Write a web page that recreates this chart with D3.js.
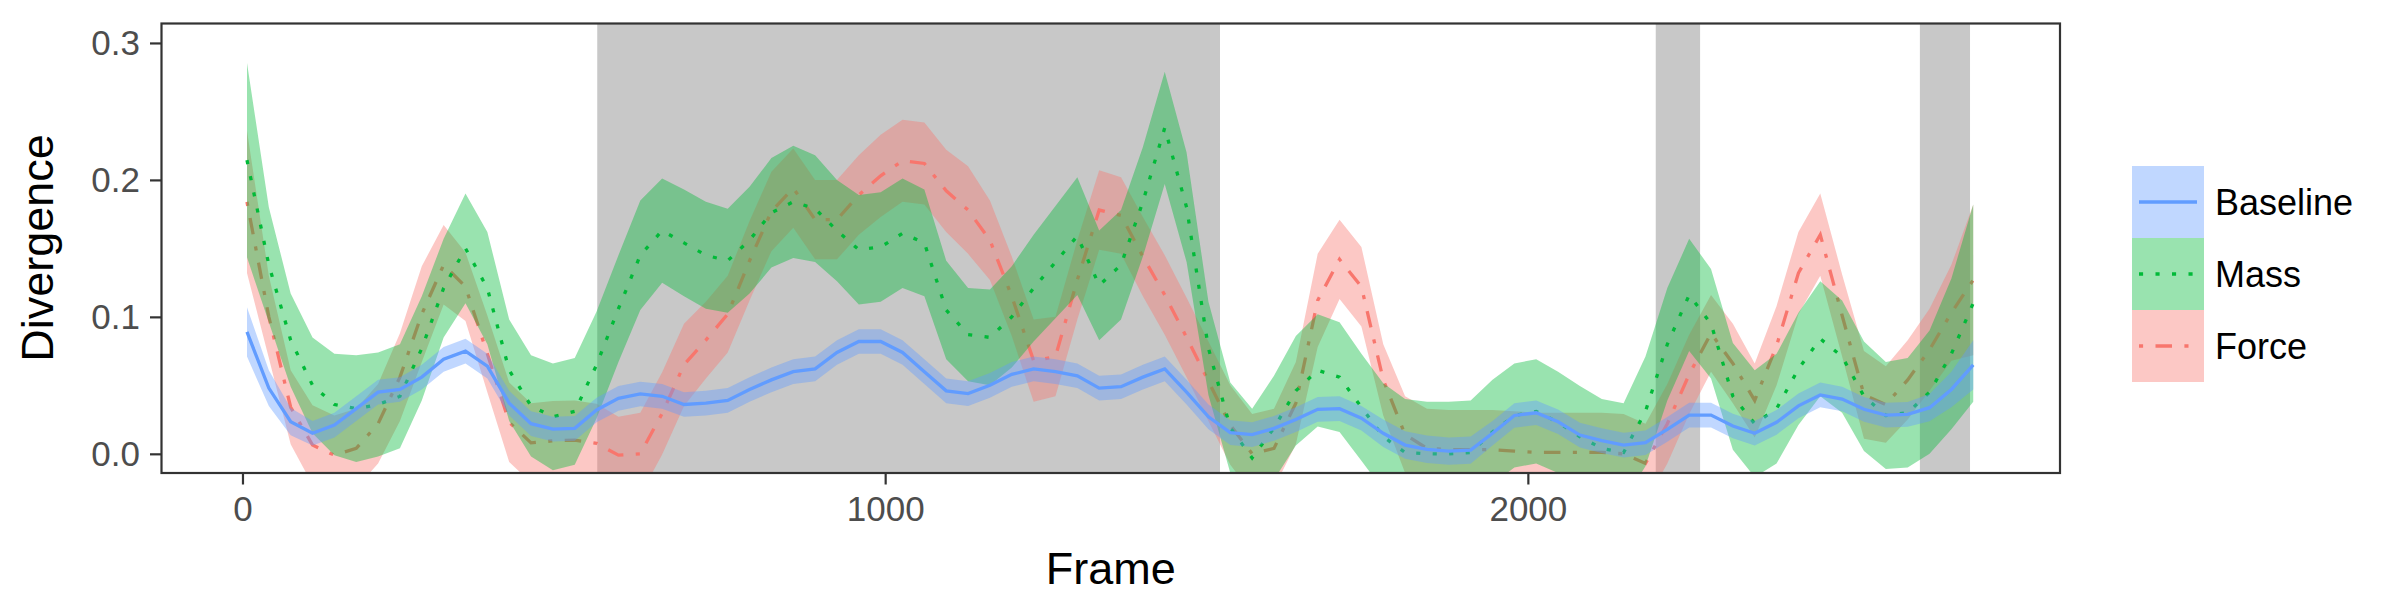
<!DOCTYPE html>
<html>
<head>
<meta charset="utf-8">
<script src="https://d3js.org/d3.v7.min.js"></script>
<style>
  body { margin: 0; background: #fff; }
  svg text { font-family: "Liberation Sans", Arial, Helvetica, sans-serif; }
</style>
</head>
<body>
<svg id="chart" width="2400" height="600"></svg>
<script>

// frame positions of the samples
var frames = [7, 41, 75, 109, 143, 177, 211, 245, 279, 313, 347, 381, 415, 449, 483, 517,
    551, 585, 619, 653, 687, 721, 755, 789, 823, 857, 891, 925, 959, 993, 1027, 1061,
    1095, 1129, 1163, 1197, 1231, 1265, 1299, 1333, 1367, 1401, 1435, 1469, 1503, 1537,
    1571, 1605, 1639, 1673, 1707, 1741, 1775, 1809, 1843, 1877, 1911, 1945, 1979, 2013,
    2047, 2081, 2115, 2149, 2183, 2217, 2251, 2285, 2319, 2353, 2387, 2421, 2455, 2489,
    2523, 2557, 2591, 2625, 2659, 2693];

var baselineMean = [0.089, 0.048, 0.0235, 0.015, 0.021, 0.033, 0.045, 0.047, 0.056, 0.069,
    0.075, 0.064, 0.037, 0.022, 0.018, 0.0186, 0.032, 0.0405, 0.0437, 0.042,
    0.036, 0.037, 0.039, 0.047, 0.054, 0.060, 0.062, 0.074, 0.082, 0.082,
    0.074, 0.060, 0.046, 0.044, 0.050, 0.058, 0.062, 0.060, 0.057, 0.048,
    0.049, 0.056, 0.062, 0.045, 0.027, 0.0155, 0.014, 0.0186, 0.025, 0.0325,
    0.033, 0.026, 0.015, 0.0064, 0.0033, 0.002, 0.0027, 0.015, 0.028, 0.030,
    0.0234, 0.0137, 0.0096, 0.0064, 0.0081, 0.0178, 0.0283, 0.0283, 0.0203, 0.015,
    0.023, 0.035, 0.043, 0.040, 0.0325, 0.0283, 0.0288, 0.0337, 0.047, 0.065];
var baselineSe = [0.018, 0.013, 0.010, 0.009, 0.009, 0.009, 0.009, 0.009, 0.009, 0.009,
    0.009, 0.009, 0.009, 0.009, 0.009, 0.009, 0.009, 0.009, 0.009, 0.009,
    0.009, 0.009, 0.009, 0.009, 0.009, 0.009, 0.009, 0.009, 0.009, 0.009,
    0.009, 0.009, 0.009, 0.009, 0.009, 0.009, 0.009, 0.009, 0.009, 0.009,
    0.009, 0.009, 0.009, 0.009, 0.009, 0.009, 0.009, 0.009, 0.009, 0.009,
    0.009, 0.009, 0.010, 0.010, 0.010, 0.010, 0.010, 0.009, 0.009, 0.009,
    0.009, 0.009, 0.009, 0.009, 0.009, 0.009, 0.009, 0.009, 0.009, 0.009,
    0.009, 0.009, 0.009, 0.009, 0.009, 0.009, 0.009, 0.010, 0.013, 0.018];

var massMean = [0.2145, 0.138, 0.083, 0.050, 0.036, 0.033, 0.036, 0.042, 0.077, 0.121,
    0.150, 0.121, 0.061, 0.035, 0.027, 0.031, 0.065, 0.106, 0.145, 0.163,
    0.154, 0.145, 0.141, 0.156, 0.176, 0.184, 0.179, 0.163, 0.149, 0.151,
    0.161, 0.154, 0.105, 0.087, 0.085, 0.100, 0.121, 0.140, 0.159, 0.123,
    0.138, 0.184, 0.238, 0.180, 0.077, 0.019, -0.003, 0.019, 0.046, 0.061,
    0.056, 0.034, 0.0125, 0.001, 0.000, 0.000, 0.001, 0.016, 0.028, 0.031,
    0.023, 0.0125, 0.004, 0.001, 0.031, 0.080, 0.116, 0.095, 0.042, 0.022,
    0.033, 0.062, 0.084, 0.071, 0.042, 0.028, 0.030, 0.045, 0.073, 0.110];
var massSe = [0.071, 0.042, 0.034, 0.035, 0.037, 0.039, 0.038, 0.038, 0.038, 0.036,
    0.040, 0.041, 0.037, 0.037, 0.039, 0.039, 0.039, 0.039, 0.040, 0.038,
    0.039, 0.039, 0.038, 0.039, 0.040, 0.041, 0.039, 0.037, 0.040, 0.040,
    0.040, 0.039, 0.036, 0.034, 0.035, 0.037, 0.039, 0.041, 0.043, 0.040,
    0.040, 0.040, 0.041, 0.040, 0.034, 0.033, 0.036, 0.038, 0.040, 0.041,
    0.040, 0.039, 0.039, 0.039, 0.038, 0.038, 0.038, 0.038, 0.038, 0.038,
    0.037, 0.037, 0.036, 0.036, 0.040, 0.041, 0.041, 0.040, 0.039, 0.039,
    0.040, 0.041, 0.042, 0.041, 0.040, 0.039, 0.040, 0.045, 0.055, 0.072];

var forceMean = [0.184, 0.100, 0.034, 0.0064, -0.001, 0.004, 0.022, 0.056, 0.102, 0.138,
    0.122, 0.073, 0.023, 0.008, 0.0095, 0.010, 0.0076, -0.001, 0.000, 0.0295,
    0.065, 0.083, 0.102, 0.141, 0.177, 0.194, 0.171, 0.171, 0.189, 0.203,
    0.214, 0.212, 0.192, 0.178, 0.156, 0.115, 0.068, 0.071, 0.127, 0.178,
    0.174, 0.144, 0.116, 0.085, 0.053, 0.021, 0.000, 0.004, 0.037, 0.112,
    0.142, 0.122, 0.054, 0.014, 0.004, 0.003, 0.003, 0.003, 0.002, 0.001,
    0.001, 0.001, 0.001, 0.000, -0.007, 0.022, 0.058, 0.088, 0.066, 0.039,
    0.079, 0.132, 0.160, 0.101, 0.043, 0.036, 0.054, 0.076, 0.103, 0.127];
var forceSe = [0.052, 0.030, 0.027, 0.029, 0.029, 0.029, 0.029, 0.032, 0.035, 0.029,
    0.025, 0.028, 0.029, 0.029, 0.029, 0.029, 0.029, 0.028, 0.030, 0.030,
    0.030, 0.028, 0.028, 0.029, 0.029, 0.029, 0.029, 0.029, 0.029, 0.030,
    0.030, 0.030, 0.030, 0.032, 0.029, 0.029, 0.030, 0.029, 0.029, 0.029,
    0.028, 0.029, 0.029, 0.029, 0.029, 0.029, 0.029, 0.029, 0.030, 0.034,
    0.029, 0.029, 0.026, 0.028, 0.029, 0.029, 0.029, 0.029, 0.029, 0.029,
    0.029, 0.029, 0.029, 0.029, 0.029, 0.029, 0.029, 0.028, 0.029, 0.027,
    0.029, 0.030, 0.030, 0.030, 0.032, 0.028, 0.029, 0.030, 0.035, 0.055];

// shaded frame ranges
var shadeStart = [552, 2199, 2610];
var shadeEnd = [1521, 2268, 2688];

var seriesNames = ["Baseline", "Mass", "Force"];
var seriesColors = ["#619CFF", "#00BA38", "#F8766D"];
var seriesDash = ["none", "4.1 12.4", "4.1 12.4 16.5 12.4"];

var xTicks = [0, 1000, 2000];
var yTicks = [0, 0.1, 0.2, 0.3];

var panel = { left: 161.5, top: 23.5, right: 2060, bottom: 473 };

var svg = d3.select("#chart");

var x = d3.scaleLinear().domain([-126, 2828]).range([panel.left, panel.right]);
var y = d3.scaleLinear().domain([-0.0140, 0.3142]).range([panel.bottom, panel.top]);

svg.append("defs").append("clipPath").attr("id", "panelClip")
    .append("rect")
    .attr("x", panel.left).attr("y", panel.top)
    .attr("width", panel.right - panel.left).attr("height", panel.bottom - panel.top);

var plot = svg.append("g").attr("clip-path", "url(#panelClip)");

// grey shading behind everything
plot.selectAll("rect.shade")
    .data(shadeStart.map(function(s, i) { return [s, shadeEnd[i]]; }))
    .enter().append("rect")
    .attr("class", "shade")
    .attr("x", function(d) { return x(d[0]); })
    .attr("width", function(d) { return x(d[1]) - x(d[0]); })
    .attr("y", panel.top)
    .attr("height", panel.bottom - panel.top)
    .attr("fill", "#C8C8C8");

var means = [baselineMean, massMean, forceMean];
var ses = [baselineSe, massSe, forceSe];

// Force first, Baseline last (ribbon then line for each)
for (var k = 2; k >= 0; k--) {
    var rows = frames.map(function(f, i) {
        return { f: f, m: means[k][i], s: ses[k][i] };
    });

    var area = d3.area()
        .x(function(d) { return x(d.f); })
        .y0(function(d) { return y(d.m - d.s); })
        .y1(function(d) { return y(d.m + d.s); });

    var line = d3.line()
        .x(function(d) { return x(d.f); })
        .y(function(d) { return y(d.m); });

    plot.append("path")
        .datum(rows)
        .attr("d", area)
        .attr("fill", seriesColors[k])
        .attr("fill-opacity", 0.4);

    plot.append("path")
        .datum(rows)
        .attr("d", line)
        .attr("fill", "none")
        .attr("stroke", seriesColors[k])
        .attr("stroke-width", 3.3)
        .attr("stroke-dasharray", seriesDash[k]);
}

// panel border
svg.append("rect")
    .attr("x", panel.left).attr("y", panel.top)
    .attr("width", panel.right - panel.left).attr("height", panel.bottom - panel.top)
    .attr("fill", "none")
    .attr("stroke", "#333333")
    .attr("stroke-width", 2.2);

// axes
var xAxis = svg.append("g")
    .attr("transform", "translate(0," + panel.bottom + ")")
    .call(d3.axisBottom(x).tickValues(xTicks).tickFormat(d3.format("d"))
        .tickSize(11.5).tickPadding(11.5));

var yAxis = svg.append("g")
    .attr("transform", "translate(" + panel.left + ",0)")
    .call(d3.axisLeft(y).tickValues(yTicks).tickFormat(d3.format(".1f"))
        .tickSize(11.5).tickPadding(10));

[xAxis, yAxis].forEach(function(a) {
    a.select(".domain").remove();
    a.selectAll(".tick line").attr("stroke", "#333333").attr("stroke-width", 2.2);
    a.selectAll(".tick text")
        .attr("fill", "#4D4D4D")
        .style("font-size", "35px")
        .style("font-family", "'Liberation Sans', Arial, sans-serif");
});

// axis titles
svg.append("text")
    .attr("x", (panel.left + panel.right) / 2)
    .attr("y", 584)
    .attr("text-anchor", "middle")
    .style("font-size", "45px")
    .text("Frame");

svg.append("text")
    .attr("transform", "translate(53,248) rotate(-90)")
    .attr("text-anchor", "middle")
    .style("font-size", "45px")
    .text("Divergence");

// legend
var legend = svg.append("g").attr("transform", "translate(2132,166)");
var keySize = 72;

seriesNames.forEach(function(name, i) {
    var g = legend.append("g").attr("transform", "translate(0," + (i * keySize) + ")");
    g.append("rect")
        .attr("width", keySize).attr("height", keySize)
        .attr("fill", seriesColors[i])
        .attr("fill-opacity", 0.4);
    g.append("line")
        .attr("x1", 7).attr("x2", keySize - 7)
        .attr("y1", keySize / 2).attr("y2", keySize / 2)
        .attr("stroke", seriesColors[i])
        .attr("stroke-width", 3.3)
        .attr("stroke-dasharray", seriesDash[i]);
    g.append("text")
        .attr("x", keySize + 11)
        .attr("y", keySize / 2)
        .attr("dy", "0.35em")
        .style("font-size", "36px")
        .text(name);
});

</script>
</body>
</html>
